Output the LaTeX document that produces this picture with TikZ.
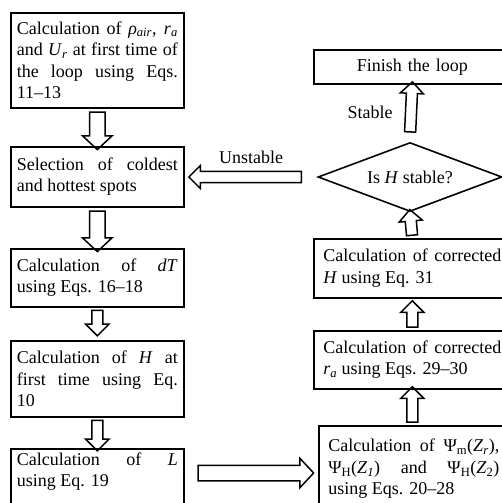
\documentclass[tikz,border=0pt]{standalone}
\usepackage{fontspec}
\setmainfont{Liberation Serif}
\usetikzlibrary{shapes.geometric,shapes.arrows,calc}

\tikzset{
  lbox/.style={draw, line width=1.6pt, anchor=north west, align=justify,
    text width=161pt, minimum width=173pt, inner xsep=0pt, inner ysep=4pt},
  rbox/.style={lbox, text width=178pt, minimum width=197pt},
  decision/.style={diamond, draw, line width=1.6pt, aspect=2.67, inner sep=0pt,
    minimum width=184pt, minimum height=69pt},
  bigarrow/.style={single arrow, draw, line width=1.5pt, inner xsep=0pt,
    inner ysep=7pt, single arrow head extend=7pt, single arrow tip angle=94},
  smallarrow/.style={single arrow, draw, line width=1.5pt, inner xsep=0pt,
    inner ysep=4.8pt, single arrow head extend=6pt, single arrow tip angle=90}
}

% hollow arrow from #3 (tail) to #4 (tip)
\newcommand{\flowarrow}[4][bigarrow]{%
  \path let \p1=(#3), \p2=(#4), \n1={veclen(\x2-\x1,\y2-\y1)},
    \n2={atan2(\y2-\y1,\x2-\x1)} in
    node[#1, minimum height=\n1, rotate=\n2] (#2) at ($(\p1)!0.5!(\p2)$) {};}

\begin{document}
\begin{tikzpicture}[x=1pt, y=-1pt, font=\fontsize{18}{21.5}\selectfont]
  \clip (0,0) rectangle (502,503);
  \useasboundingbox (0,0) rectangle (502,503);

  %left column
  \node[lbox, minimum height=95pt] (calcrho) at (10,12)
    {Calculation of \textit{ρ}\textsubscript{\textit{air}}, \textit{r}\textsubscript{\textit{a}}\linebreak
     and \textit{U}\textsubscript{\textit{r}} at first time of\linebreak
     the loop using Eqs.\linebreak 11--13};
  \node[lbox, minimum height=60pt] (select) at (10,146)
    {Selection of coldest\linebreak and hottest spots};
  \node[lbox, minimum height=58pt] (calcdT) at (10,248)
    {Calculation of \textit{dT}\linebreak using Eqs. 16--18};
  \node[lbox, minimum height=76pt] (calcH) at (10,340)
    {Calculation of \textit{H} at\linebreak first time using Eq.\linebreak 10};
  \node[lbox, text depth=40pt] (calcL) at (10,448)
    {Calculation of \textit{L}\linebreak using Eq. 19};

  %right column
  \node[rbox, align=center, minimum height=34pt] (finish) at (313,49) {Finish the loop};
  \node[decision] (stable) at (410,177) {Is \textit{H} stable?};
  \node[rbox, minimum height=59pt] (corrH) at (313,238)
    {Calculation of corrected\linebreak \textit{H} using Eq. 31};
  \node[rbox, minimum height=58pt] (corrRa) at (313,330)
    {Calculation of corrected\linebreak \textit{r}\textsubscript{\textit{a}} using Eqs. 29--30};
  \node[lbox, text width=171pt, minimum width=190pt, inner ysep=13.5pt, text depth=50pt] (calcPsi) at (318,425)
    {Calculation of Ψ\textsubscript{m}(\textit{Z}\textsubscript{\textit{r}}),\linebreak
     Ψ\textsubscript{H}(\textit{Z}\textsubscript{\textit{1}}) and Ψ\textsubscript{H}(\textit{Z}\textsubscript{2})\linebreak
     using Eqs. 20--28};

  %arrow ends with gaps
  \coordinate (dTtip) at ($(calcH.north)+(0,-7)$);
  \coordinate (Ltail) at ($(calcL.north east)+(10,25)$);
  \coordinate (Ltip) at ($(calcPsi.north west)+(-8,48)$);
  \coordinate (psitail) at (corrRa.south |- calcPsi.north);
  \coordinate (ratip) at ($(corrH.south)+(0,5)$);
  \coordinate (stabtail) at ($(stable.north)+(0,-7)$);
  \coordinate (unsttail) at ($(stable.west)+(-13,0)$);
  \coordinate (unsttip) at ($(select.east |- stable.west)+(7,0)$);

  \flowarrow{a1}{calcrho.south}{select.north}
  \flowarrow{a2}{select.south}{calcdT.north}
  \flowarrow[smallarrow]{a3}{calcdT.south}{dTtip}
  \flowarrow[smallarrow]{a4}{calcH.south}{calcL.north}
  \flowarrow{a5}{Ltail}{Ltip}
  \flowarrow[smallarrow]{a6}{psitail}{corrRa.south}
  \flowarrow[smallarrow]{a7}{corrRa.north}{ratip}
  \flowarrow[smallarrow]{a8}{corrH.north}{stable.south}
  \flowarrow[smallarrow]{a9}{stabtail}{finish.south}
  \flowarrow[smallarrow]{a10}{unsttail}{unsttip}

  %condition labels
  \node (unstlbl) at (251,157) {Unstable};
  \node (stablbl) at (370,112) {Stable};
\end{tikzpicture}
\end{document}
